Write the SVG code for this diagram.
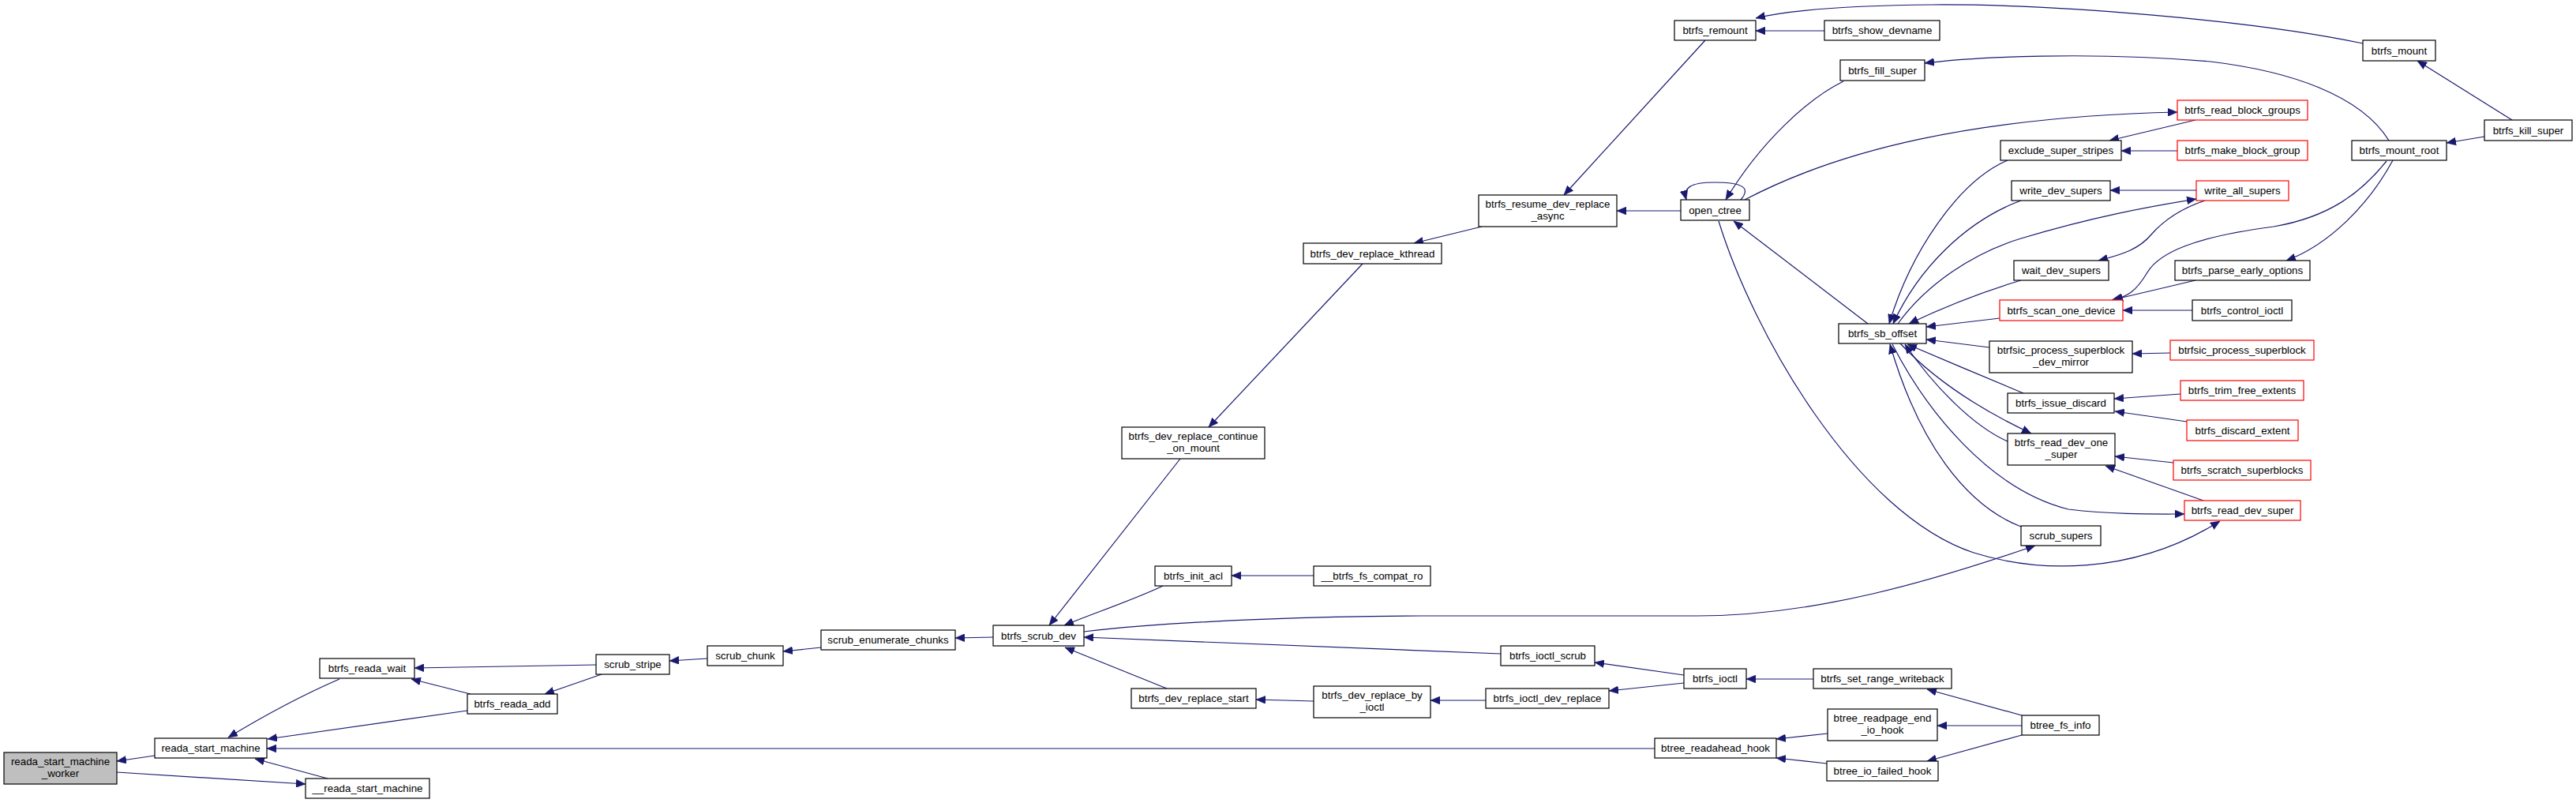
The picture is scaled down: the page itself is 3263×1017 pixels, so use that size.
<svg xmlns="http://www.w3.org/2000/svg" width="3263" height="1017" viewBox="0 0 3263 1017">
<style>
.n rect{fill:#ffffff;stroke:#000000;stroke-width:1.2}
.n.red rect{stroke:#ff0000}
.n.root rect{fill:#bfbfbf}
.n text{font-family:"Liberation Sans",Arial,Helvetica,sans-serif;font-size:13.33px;text-anchor:middle;fill:#000000}
.e path{fill:none;stroke:#191970;stroke-width:1.2;marker-end:url(#ah)}
.e path.na{marker-end:none}
</style>
<defs>
<marker id="ah" markerUnits="userSpaceOnUse" markerWidth="12" markerHeight="10" viewBox="0 0 12 10" refX="12" refY="5" orient="auto">
<path d="M0,0 L12,5 L0,10 z" fill="#191970" stroke="#191970" stroke-width="0.5"/>
</marker>
</defs>
<rect x="0" y="0" width="3263" height="1017" fill="#ffffff"/>
<g id="edges" class="e">
<path d="M196,957 L148,964"/>
<path d="M148,978 L387,993"/>
<path d="M415,986 L323,961"/>
<path d="M430,860 C400,873 350,897 289,934"/>
<path d="M592,900 L339,936"/>
<path d="M2096,948 L338,948"/>
<path d="M755,842 L525,846"/>
<path d="M596,879 L521,860"/>
<path d="M762,854 L690,879"/>
<path d="M896,834 L848,837"/>
<path d="M1040,820 L992,825"/>
<path d="M1258,807 L1210,808"/>
<path d="M1495,581 L1329,792"/>
<path d="M1473,742 C1440,758 1390,775 1348,792"/>
<path d="M1373,800 C1500,785 1700,780 1800,780 L2150,780 C2300,780 2450,735 2578,691"/>
<path d="M1901,828 L1373,807"/>
<path d="M1478,872 L1349,820"/>
<path d="M1664,888 L1591,886"/>
<path d="M1882,887 L1812,887"/>
<path d="M2133,865 L2038,875"/>
<path d="M2133,855 L2020,839"/>
<path d="M2297,860 L2212,860"/>
<path d="M2561,906 L2441,873"/>
<path d="M2561,919 L2454,919"/>
<path d="M2561,931 L2441,964"/>
<path d="M2315,929 L2250,936"/>
<path d="M2314,967 L2250,960"/>
<path d="M1664,729 L1560,729"/>
<path d="M1726,334 L1531,541"/>
<path d="M1877,287 L1791,308"/>
<path d="M2160,51 L1981,247"/>
<path d="M2129,267 L2048,267"/>
<path d="M2205,253 C2218,238 2208,231 2172,231 C2140,231 2132,238 2136,253"/>
<path d="M2335,103 C2290,125 2230,180 2186,253"/>
<path d="M2210,253 C2330,190 2500,148 2758,142"/>
<path d="M2366,410 L2196,280"/>
<path d="M2177,280 C2220,420 2350,650 2500,700 C2580,725 2700,730 2812,660"/>
<path d="M2311,39 L2224,39"/>
<path d="M2993,55 C2850,25 2600,5 2448,6 C2350,7 2270,12 2224,23"/>
<path d="M3026,178 C2990,120 2900,90 2800,78 C2650,65 2500,72 2438,80"/>
<path d="M3182,152 L3062,77"/>
<path d="M3147,173 L3099,181"/>
<path d="M3031,203 C3000,260 2950,310 2896,330"/>
<path d="M3023,204 C2990,245 2950,275 2880,287 C2780,300 2735,320 2720,345 C2705,370 2695,375 2677,380"/>
<path d="M2781,355 L2675,380"/>
<path d="M2777,393 L2689,393"/>
<path d="M2781,152 L2672,178"/>
<path d="M2758,191 L2687,191"/>
<path d="M2782,241 L2673,241"/>
<path d="M2793,254 C2760,265 2740,280 2725,297 C2710,315 2690,322 2658,330"/>
<path d="M2404,410 C2440,360 2500,320 2560,302 C2650,275 2720,262 2782,252"/>
<path d="M2543,203 C2480,230 2420,320 2393,410"/>
<path d="M2560,254 C2490,280 2430,340 2398,410"/>
<path d="M2560,355 C2510,370 2460,390 2418,410"/>
<path d="M2533,403 L2440,414"/>
<path d="M2520,440 L2440,430"/>
<path d="M2563,498 C2520,480 2460,455 2416,436"/>
<path d="M2407,435 C2440,470 2490,510 2573,549"/>
<path d="M2543,559 C2500,540 2450,490 2413,436"/>
<path d="M2560,667 C2490,640 2430,560 2394,436"/>
<path d="M2397,436 C2440,520 2520,620 2620,645 C2680,652 2730,651 2767,651"/>
<path d="M2791,634 L2667,590"/>
<path d="M2753,586 L2679,578"/>
<path d="M2770,534 L2679,521"/>
<path d="M2762,499 L2678,505"/>
<path d="M2749,447 L2701,448"/>
</g>
<g id="reada_start_machine_worker" class="n root"><rect x="5" y="953" width="143" height="40"/><text x="76.5" y="969">reada_start_machine</text><text x="76.5" y="984">_worker</text></g>
<g id="reada_start_machine" class="n"><rect x="196" y="935" width="142" height="25"/><text x="267" y="952">reada_start_machine</text></g>
<g id="btrfs_reada_wait" class="n"><rect x="405" y="834" width="120" height="25"/><text x="465" y="851">btrfs_reada_wait</text></g>
<g id="btrfs_reada_add" class="n"><rect x="592" y="879" width="114" height="25"/><text x="649" y="896">btrfs_reada_add</text></g>
<g id="__reada_start_machine" class="n"><rect x="387" y="986" width="157" height="25"/><text x="465.5" y="1003">__reada_start_machine</text></g>
<g id="scrub_stripe" class="n"><rect x="755" y="829" width="93" height="25"/><text x="801.5" y="846">scrub_stripe</text></g>
<g id="scrub_chunk" class="n"><rect x="896" y="818" width="96" height="25"/><text x="944" y="835">scrub_chunk</text></g>
<g id="scrub_enumerate_chunks" class="n"><rect x="1040" y="798" width="170" height="25"/><text x="1125" y="815">scrub_enumerate_chunks</text></g>
<g id="btrfs_scrub_dev" class="n"><rect x="1258" y="792" width="115" height="26"/><text x="1315.5" y="809.5">btrfs_scrub_dev</text></g>
<g id="btrfs_dev_replace_continue_on_mount" class="n"><rect x="1421" y="541" width="181" height="40"/><text x="1511.5" y="557">btrfs_dev_replace_continue</text><text x="1511.5" y="572">_on_mount</text></g>
<g id="btrfs_init_acl" class="n"><rect x="1463" y="717" width="97" height="25"/><text x="1511.5" y="734">btrfs_init_acl</text></g>
<g id="btrfs_dev_replace_start" class="n"><rect x="1433" y="872" width="158" height="25"/><text x="1512" y="889">btrfs_dev_replace_start</text></g>
<g id="btrfs_dev_replace_kthread" class="n"><rect x="1651" y="308" width="175" height="26"/><text x="1738.5" y="325.5">btrfs_dev_replace_kthread</text></g>
<g id="btrfs_resume_dev_replace_async" class="n"><rect x="1873" y="247" width="175" height="40"/><text x="1960.5" y="263">btrfs_resume_dev_replace</text><text x="1960.5" y="278">_async</text></g>
<g id="btrfs_remount" class="n"><rect x="2121" y="26" width="103" height="25"/><text x="2172.5" y="43">btrfs_remount</text></g>
<g id="btrfs_show_devname" class="n"><rect x="2311" y="26" width="146" height="25"/><text x="2384" y="43">btrfs_show_devname</text></g>
<g id="btrfs_fill_super" class="n"><rect x="2331" y="76" width="107" height="26"/><text x="2384.5" y="93.5">btrfs_fill_super</text></g>
<g id="open_ctree" class="n"><rect x="2129" y="253" width="87" height="26"/><text x="2172.5" y="270.5">open_ctree</text></g>
<g id="btrfs_sb_offset" class="n"><rect x="2329" y="410" width="111" height="25"/><text x="2384.5" y="427">btrfs_sb_offset</text></g>
<g id="__btrfs_fs_compat_ro" class="n"><rect x="1664" y="717" width="148" height="25"/><text x="1738" y="734">__btrfs_fs_compat_ro</text></g>
<g id="btrfs_ioctl_scrub" class="n"><rect x="1901" y="818" width="119" height="25"/><text x="1960.5" y="835">btrfs_ioctl_scrub</text></g>
<g id="btrfs_ioctl" class="n"><rect x="2133" y="847" width="79" height="25"/><text x="2172.5" y="864">btrfs_ioctl</text></g>
<g id="btrfs_set_range_writeback" class="n"><rect x="2297" y="847" width="175" height="25"/><text x="2384.5" y="864">btrfs_set_range_writeback</text></g>
<g id="btrfs_dev_replace_by_ioctl" class="n"><rect x="1664" y="869" width="148" height="40"/><text x="1738" y="885">btrfs_dev_replace_by</text><text x="1738" y="900">_ioctl</text></g>
<g id="btrfs_ioctl_dev_replace" class="n"><rect x="1882" y="872" width="156" height="25"/><text x="1960" y="889">btrfs_ioctl_dev_replace</text></g>
<g id="btree_readahead_hook" class="n"><rect x="2096" y="935" width="154" height="25"/><text x="2173" y="952">btree_readahead_hook</text></g>
<g id="btree_readpage_end_io_hook" class="n"><rect x="2315" y="898" width="139" height="40"/><text x="2384.5" y="914">btree_readpage_end</text><text x="2384.5" y="929">_io_hook</text></g>
<g id="btree_io_failed_hook" class="n"><rect x="2314" y="964" width="141" height="25"/><text x="2384.5" y="981">btree_io_failed_hook</text></g>
<g id="btrfs_mount" class="n"><rect x="2993" y="51" width="92" height="26"/><text x="3039" y="68.5">btrfs_mount</text></g>
<g id="btrfs_kill_super" class="n"><rect x="3147" y="152" width="111" height="26"/><text x="3202.5" y="169.5">btrfs_kill_super</text></g>
<g id="btrfs_read_block_groups" class="n red"><rect x="2758" y="127" width="165" height="25"/><text x="2840.5" y="144">btrfs_read_block_groups</text></g>
<g id="exclude_super_stripes" class="n"><rect x="2534" y="178" width="153" height="25"/><text x="2610.5" y="195">exclude_super_stripes</text></g>
<g id="btrfs_make_block_group" class="n red"><rect x="2758" y="178" width="165" height="25"/><text x="2840.5" y="195">btrfs_make_block_group</text></g>
<g id="btrfs_mount_root" class="n"><rect x="2979" y="178" width="120" height="25"/><text x="3039" y="195">btrfs_mount_root</text></g>
<g id="write_dev_supers" class="n"><rect x="2548" y="229" width="125" height="25"/><text x="2610.5" y="246">write_dev_supers</text></g>
<g id="write_all_supers" class="n red"><rect x="2782" y="229" width="117" height="25"/><text x="2840.5" y="246">write_all_supers</text></g>
<g id="wait_dev_supers" class="n"><rect x="2551" y="330" width="120" height="25"/><text x="2611" y="347">wait_dev_supers</text></g>
<g id="btrfs_parse_early_options" class="n"><rect x="2755" y="330" width="171" height="25"/><text x="2840.5" y="347">btrfs_parse_early_options</text></g>
<g id="btrfs_scan_one_device" class="n red"><rect x="2533" y="380" width="156" height="26"/><text x="2611" y="397.5">btrfs_scan_one_device</text></g>
<g id="btrfs_control_ioctl" class="n"><rect x="2777" y="380" width="126" height="26"/><text x="2840" y="397.5">btrfs_control_ioctl</text></g>
<g id="btrfsic_process_superblock_dev_mirror" class="n"><rect x="2520" y="432" width="181" height="40"/><text x="2610.5" y="448">btrfsic_process_superblock</text><text x="2610.5" y="463">_dev_mirror</text></g>
<g id="btrfsic_process_superblock" class="n red"><rect x="2749" y="431" width="182" height="25"/><text x="2840" y="448">btrfsic_process_superblock</text></g>
<g id="btrfs_trim_free_extents" class="n red"><rect x="2762" y="482" width="156" height="25"/><text x="2840" y="499">btrfs_trim_free_extents</text></g>
<g id="btrfs_issue_discard" class="n"><rect x="2543" y="498" width="135" height="25"/><text x="2610.5" y="515">btrfs_issue_discard</text></g>
<g id="btrfs_discard_extent" class="n red"><rect x="2770" y="532" width="141" height="26"/><text x="2840.5" y="549.5">btrfs_discard_extent</text></g>
<g id="btrfs_read_dev_one_super" class="n"><rect x="2543" y="549" width="136" height="40"/><text x="2611" y="565">btrfs_read_dev_one</text><text x="2611" y="580">_super</text></g>
<g id="btrfs_scratch_superblocks" class="n red"><rect x="2753" y="583" width="174" height="25"/><text x="2840" y="600">btrfs_scratch_superblocks</text></g>
<g id="btrfs_read_dev_super" class="n red"><rect x="2767" y="634" width="147" height="25"/><text x="2840.5" y="651">btrfs_read_dev_super</text></g>
<g id="scrub_supers" class="n"><rect x="2560" y="666" width="101" height="25"/><text x="2610.5" y="683">scrub_supers</text></g>
<g id="btree_fs_info" class="n"><rect x="2561" y="906" width="98" height="25"/><text x="2610" y="923">btree_fs_info</text></g>
</svg>
